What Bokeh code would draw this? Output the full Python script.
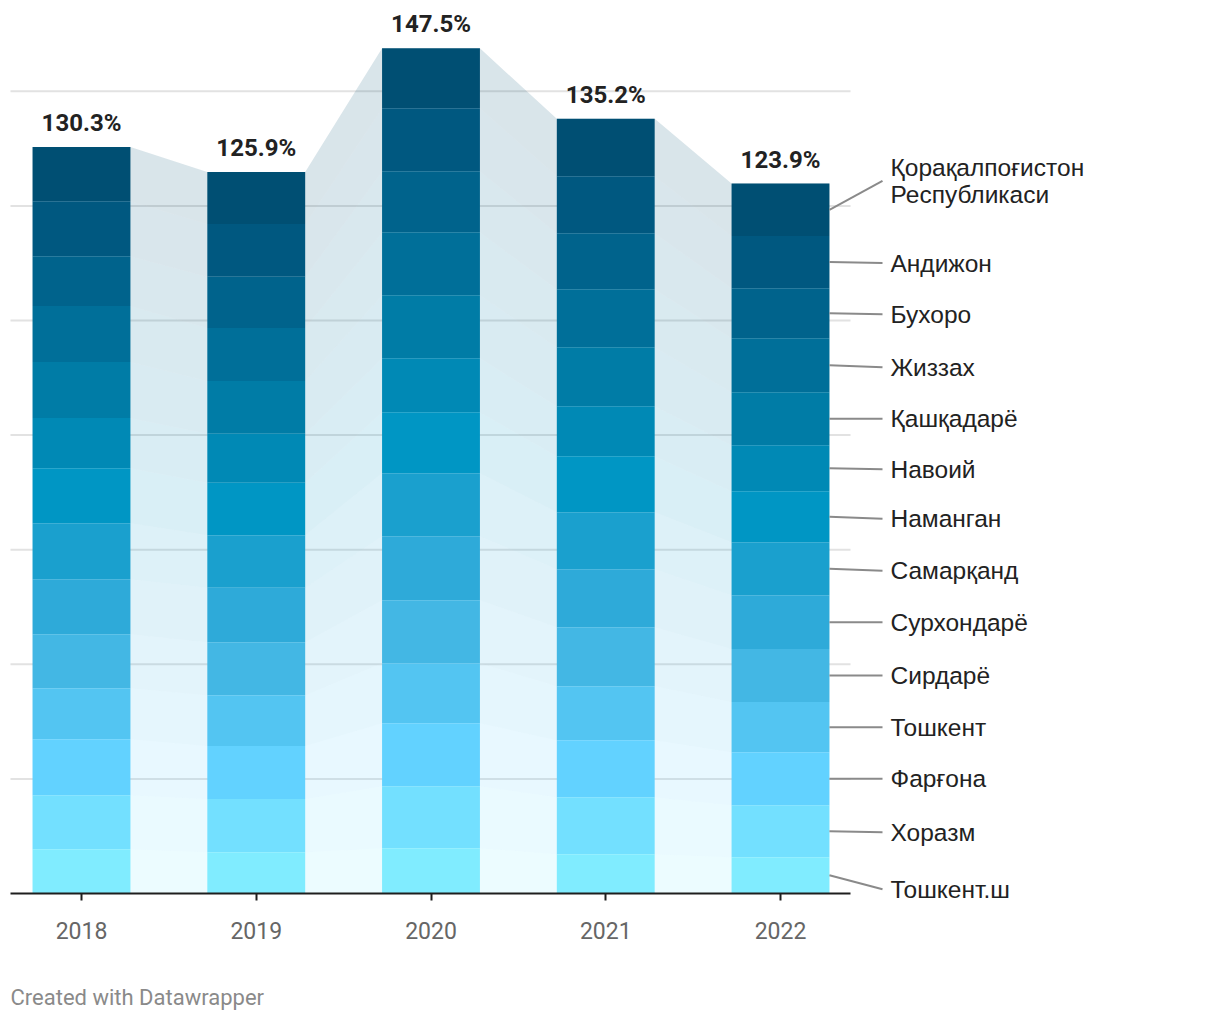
from bokeh.plotting import figure
from bokeh.models import ColumnDataSource, FixedTicker, Range1d
from bokeh.embed import file_html
from bokeh.resources import INLINE
from bokeh.core.properties import value

# ---------------- data ----------------
years = ["2018", "2019", "2020", "2021", "2022"]
totals = [130.3, 125.9, 147.5, 135.2, 123.9]

# regions, listed top of stack -> bottom of stack
regions = ["Қорақалпоғистон\nРеспубликаси", "Андижон", "Бухоро", "Жиззах", "Қашқадарё",
           "Навоий", "Наманган", "Самарқанд", "Сурхондарё", "Сирдарё", "Тошкент",
           "Фарғона", "Хоразм", "Тошкент.ш"]

karakalpak = [9.50, 9.08, 10.47, 10.01, 9.17]
andijon = [9.60, 9.20, 10.99, 9.95, 9.08]
bukhoro = [8.67, 8.95, 10.65, 9.77, 8.73]
jizzakh = [9.77, 9.25, 10.99, 10.12, 9.42]
kashkadaryo = [9.77, 9.20, 10.99, 10.30, 9.25]
navoiy = [8.78, 8.55, 9.42, 8.73, 8.03]
namangan = [9.60, 9.13, 10.65, 9.77, 8.90]
samarkand = [9.77, 9.20, 10.99, 9.95, 9.25]
surkhondaryo = [9.60, 9.48, 11.17, 10.12, 9.42]
sirdaryo = [9.42, 9.25, 10.99, 10.30, 9.25]
toshkent = [8.90, 8.85, 10.47, 9.42, 8.73]
fargona = [9.77, 9.25, 10.99, 9.95, 9.25]
khorazm = [9.42, 9.30, 10.82, 9.95, 9.08]
toshkent_sh = [7.73, 7.21, 7.91, 6.86, 6.34]

series = [karakalpak, andijon, bukhoro, jizzakh, kashkadaryo, navoiy, namangan,
          samarkand, surkhondaryo, sirdaryo, toshkent, fargona, khorazm, toshkent_sh]

grid_values = [20, 40, 60, 80, 100, 120, 140]

colors = ["#004f73", "#005880", "#00638c", "#006f99", "#007ca6", "#0089b5", "#0096c4",
          "#1aa0ce", "#2eaad9", "#43b7e4", "#53c5f2", "#62d2ff", "#73e0ff", "#80ecff"]

# ---------------- layout constants (pixels) ----------------
W, H = 1210, 1012
BASE_PX = 893                  # page y of the zero line
PXU = 5.73                     # pixels per value unit
XPX = 174.75                   # pixels per category step
FIRST_PX = 81                  # page x of first bar centre
HW = 0.28                      # half bar width (category units)
FONT = "Roboto"
LABEL_FONT = "Liberation Sans"


def xd(px):
    return (px - FIRST_PX) / XPX


def yd(py):
    return (BASE_PX - py) / PXU


GRID_L, GRID_R = xd(10), xd(850)

p = figure(width=W, height=H, x_range=Range1d(xd(0), xd(W)), y_range=Range1d(yd(H), yd(0)),
           output_backend="svg", toolbar_location=None, y_axis_location=None,
           min_border_left=0, min_border_right=0, min_border_top=0, min_border_bottom=0)
p.outline_line_color = None
p.background_fill_color = "white"
p.border_fill_color = "white"
p.xgrid.visible = False
p.ygrid.visible = False

xs = list(range(len(years)))

# gridlines (limited horizontally like the original)
p.segment(x0=[GRID_L] * len(grid_values), x1=[GRID_R] * len(grid_values),
          y0=grid_values, y1=grid_values, line_color="#e2e2e2", line_width=2)

# stack from bottom upward
n = len(series)
bottoms, tops = {}, {}
cum = [0.0] * len(years)
for k in range(n - 1, -1, -1):
    b = cum[:]
    t = [cum[i] + series[k][i] for i in range(len(years))]
    bottoms[k], tops[k] = b, t
    cum = t

# connecting areas
for k in range(n):
    axx, ay1, ay2 = [], [], []
    for i in xs:
        axx += [i - HW, i + HW]
        ay1 += [bottoms[k][i]] * 2
        ay2 += [tops[k][i]] * 2
    p.varea(x=axx, y1=ay1, y2=ay2, fill_color=colors[k], fill_alpha=0.15)

# bars
for k in range(n):
    src = ColumnDataSource(dict(x=xs, bottom=bottoms[k], top=tops[k]))
    p.vbar(x="x", bottom="bottom", top="top", width=2 * HW, source=src,
           fill_color=colors[k], line_color=None)

# total labels
p.text(x=xs, y=[tops[0][i] + 24 / PXU for i in xs], text=[f"{t:.1f}%" for t in totals],
       text_font=value(FONT), text_font_style="bold", text_font_size="24px",
       text_align="center", text_baseline="alphabetic", text_color="#222222")

# x axis, pinned to the zero line
ax = p.xaxis[0]
ax.fixed_location = 0
ax.bounds = (GRID_L, GRID_R)
ax.ticker = FixedTicker(ticks=xs)
ax.major_label_overrides = {i: y for i, y in zip(xs, years)}
ax.axis_line_color = "#1e1e1e"
ax.axis_line_width = 2
ax.major_tick_line_color = "#1e1e1e"
ax.major_tick_line_width = 2
ax.major_tick_out = 7
ax.major_tick_in = 0
ax.minor_tick_line_color = None
ax.major_label_standoff = 21
ax.major_label_text_font = FONT
ax.major_label_text_font_size = "23px"
ax.major_label_text_color = "#666666"

# right side labels with leader lines
last = len(years) - 1
label_offsets_px = [29, -1, -1, -2, 0, -1, -2, -2, 0, 0, 0, 0, -1, -14]
mids = [(bottoms[k][last] + tops[k][last]) / 2 for k in range(n)]
label_y = [mids[k] + label_offsets_px[k] / PXU for k in range(n)]
p.segment(x0=[last + HW] * n, y0=mids, x1=[xd(882)] * n, y1=label_y,
          line_color="#8a8a8a", line_width=2)
p.text(x=[xd(890)] * n, y=label_y, text=regions, text_font=value(LABEL_FONT),
       text_font_size="24.5px", text_color="#222222", text_align="left",
       text_baseline="middle", text_line_height=1.0)

# footer
p.text(x=[xd(10)], y=[yd(997)], text=["Created with Datawrapper"], text_font=value(FONT),
       text_font_size="22px", text_color="#8a8a8a", text_align="left",
       text_baseline="middle")

open("out.html", "w").write(file_html(p, INLINE))
